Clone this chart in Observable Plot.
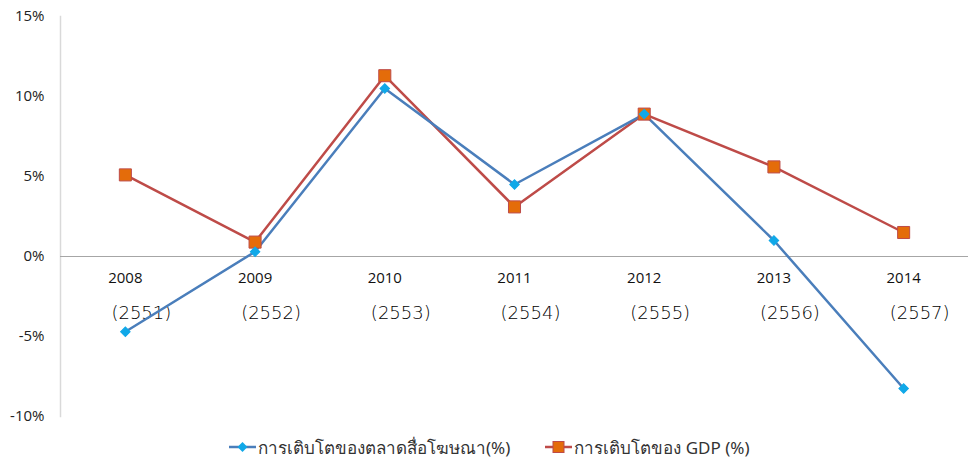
<!DOCTYPE html>
<html>
<head>
<meta charset="utf-8">
<script src="https://cdn.jsdelivr.net/npm/d3@7"></script>
<script src="https://cdn.jsdelivr.net/npm/@observablehq/plot@0.6"></script>
<style>
  html, body { margin: 0; padding: 0; background: #fff; overflow: hidden; }
  #chart { width: 968px; }
  #chart svg { display: block; }
  .legend { display: flex; justify-content: flex-start; align-items: center; height: 27px; padding-top: 3px; box-sizing: border-box; font-family: "Noto Sans", "DejaVu Sans", sans-serif; font-size: 17px; color: #333; padding-left: 229px; }
  .legend .item { display: flex; align-items: center; margin-right: 35px; }
  .legend svg { margin-right: 2px; }
</style>
</head>
<body>
<div id="chart"></div>
<script>
const years = ["2008", "2009", "2010", "2011", "2012", "2013", "2014"];
const thaiYears = ["(2551)", "(2552)", "(2553)", "(2554)", "(2555)", "(2556)", "(2557)"];
const mediaGrowth = [-4.7, 0.3, 10.5, 4.5, 8.9, 1.0, -8.25];
const gdpGrowth = [5.1, 0.9, 11.3, 3.1, 8.9, 5.6, 1.5];
const yTicks = [-10, -5, 0, 5, 10, 15];
const seriesNames = ["การเติบโตของตลาดสื่อโฆษณา(%)", "การเติบโตของ GDP (%)"];

const media = years.map((y, i) => ({year: y, value: mediaGrowth[i]}));
const gdp = years.map((y, i) => ({year: y, value: gdpGrowth[i]}));
const labels = years.map((y, i) => ({year: y, thai: thaiYears[i]}));

const blueLine = "#4a7ebb", blueFill = "#10a8e8";
const redLine = "#be4b48", redFill = "#e46c0a";

const plot = Plot.plot({
  width: 968,
  height: 432,
  marginTop: 16,
  marginBottom: 16,
  marginLeft: 60,
  marginRight: 0,
  x: {type: "point", domain: years, padding: 0.5, round: false, axis: null},
  y: {domain: [-10, 15], axis: null},
  style: {background: "#fff"},
  marks: [
    Plot.frame({anchor: "left", stroke: "#d9d9d9", strokeWidth: 1.5}),
    Plot.ruleY([0], {stroke: "#a6a6a6", strokeWidth: 1}),
    Plot.text(yTicks, {x: null, y: d => d, text: d => d + "%", frameAnchor: "left", dx: -16, textAnchor: "end", fontSize: 15, fill: "#222", fontFamily: "Open Sans, Liberation Sans, sans-serif"}),
    Plot.text(labels, {x: "year", y: () => 0, text: "year", dy: 22, fontSize: 15, fill: "#111", fontFamily: "Open Sans, Liberation Sans, sans-serif"}),
    Plot.text(labels, {x: "year", y: () => 0, text: "thai", dy: 57, dx: 16, fontSize: 18, fill: "#000", fontFamily: "DejaVu Sans, sans-serif", fontWeight: 200, style: "letter-spacing:1px"}),
    Plot.line(gdp, {x: "year", y: "value", stroke: redLine, strokeWidth: 2.5}),
    Plot.line(media, {x: "year", y: "value", stroke: blueLine, strokeWidth: 2.5}),
    Plot.dot(gdp, {x: "year", y: "value", symbol: "square", r: 6.8, fill: redFill, stroke: redLine, strokeWidth: 1}),
    Plot.dot(media, {x: "year", y: "value", symbol: "square", r: 3.8, rotate: 45, fill: blueFill, stroke: blueFill, strokeWidth: 1})
  ]
});
document.getElementById("chart").appendChild(plot);

const legend = document.createElement("div");
legend.className = "legend";
legend.innerHTML = `
  <div class="item"><svg width="27" height="14"><line x1="0" y1="7" x2="27" y2="7" stroke="${blueLine}" stroke-width="2.5"/><rect x="10" y="3.5" width="7" height="7" transform="rotate(45 13.5 7)" fill="${blueFill}"/></svg><span>${seriesNames[0]}</span></div>
  <div class="item"><svg width="27" height="14"><line x1="0" y1="7" x2="27" y2="7" stroke="${redLine}" stroke-width="2.5"/><rect x="8" y="1.5" width="11" height="11" fill="${redFill}" stroke="${redLine}" stroke-width="1"/></svg><span>${seriesNames[1]}</span></div>`;
document.body.appendChild(legend);
</script>
</body>
</html>
